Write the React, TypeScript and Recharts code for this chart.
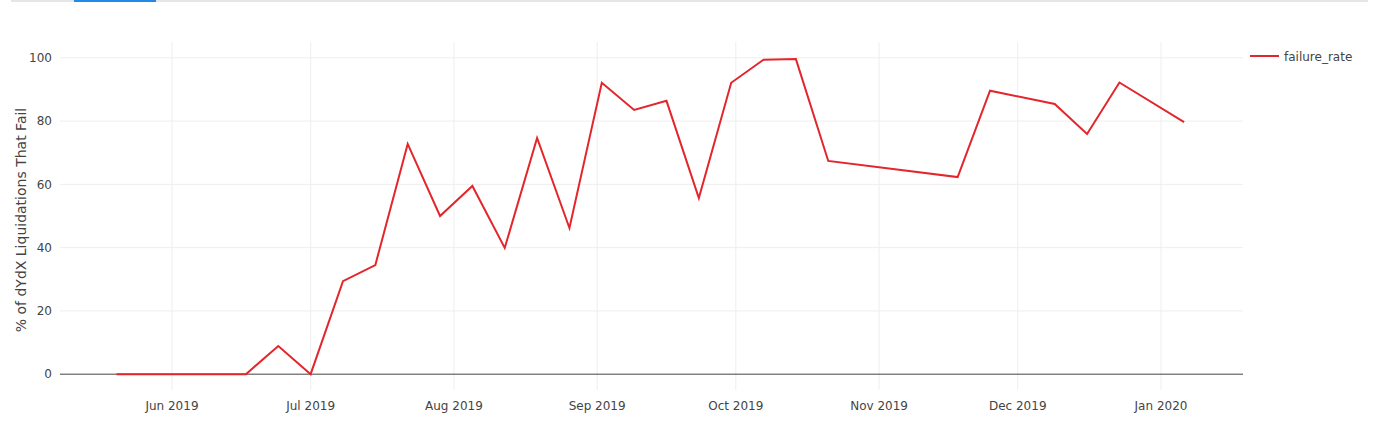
import React from "react";
import {
  LineChart,
  Line,
  XAxis,
  YAxis,
  ReferenceLine
} from "recharts";

const weeks = [
  "2019-05-20", "2019-05-27", "2019-06-03", "2019-06-10", "2019-06-17",
  "2019-06-24", "2019-07-01", "2019-07-08", "2019-07-15", "2019-07-22",
  "2019-07-29", "2019-08-05", "2019-08-12", "2019-08-19", "2019-08-26",
  "2019-09-02", "2019-09-09", "2019-09-16", "2019-09-23", "2019-09-30",
  "2019-10-07", "2019-10-14", "2019-10-21", "2019-11-18", "2019-11-25",
  "2019-12-09", "2019-12-16", "2019-12-23", "2020-01-06"
];

const failureRate = [
  0, 0, 0, 0, 0,
  8.9, 0, 29.4, 34.5, 72.8,
  50.0, 59.5, 39.9, 74.7, 46.2,
  92.1, 83.5, 86.4, 55.7, 92.1,
  99.4, 99.6, 67.4, 62.3, 89.6,
  85.4, 75.9, 92.2, 79.7
];

const monthTicks = [
  "2019-06-01", "2019-07-01", "2019-08-01", "2019-09-01",
  "2019-10-01", "2019-11-01", "2019-12-01", "2020-01-01"
];

const yTicks = [0, 20, 40, 60, 80, 100];

const monthNames = ["Jan", "Feb", "Mar", "Apr", "May", "Jun", "Jul", "Aug", "Sep", "Oct", "Nov", "Dec"];

const toTs = (s: string) => Date.parse(s + "T00:00:00Z");
const DAY = 86400000;

const data = weeks.map((w, i) => ({ t: toTs(w), failure_rate: failureRate[i] }));
const xTicks = monthTicks.map(toTs);

const fmtMonth = (ts: number) => {
  const d = new Date(ts);
  return `${monthNames[d.getUTCMonth()]} ${d.getUTCFullYear()}`;
};

const RED = "#e3262b";
const GRID = "#eeeeee";
const FONT = '"DejaVu Sans", verdana, arial, sans-serif';

const YTitle = ({ viewBox }: any) => {
  const x = viewBox.x + 21;
  const y = viewBox.y + viewBox.height / 2 + 4;
  return (
    <text
      x={x}
      y={y}
      transform={`rotate(-90 ${x} ${y})`}
      textAnchor="middle"
      dominantBaseline="central"
      fontSize={14}
      fill="#444"
      fontFamily={FONT}
    >
      % of dYdX Liquidations That Fail
    </text>
  );
};

export default function App() {
  return (
    <div style={{ position: "relative", width: 1383, height: 439, background: "#fff", fontFamily: FONT }}>
      <style>{`body{margin:0}`}</style>
      <div style={{ position: "absolute", left: 11, top: 0, width: 1357, height: 2, background: "#e6e6e6" }} />
      <div style={{ position: "absolute", left: 74, top: 0, width: 82, height: 2, background: "#2189e8" }} />
      <LineChart
        width={1383}
        height={439}
        data={data}
        margin={{ top: 42, right: 140, left: 0, bottom: 19 }}
      >
        <XAxis
          dataKey="t"
          type="number"
          scale="time"
          domain={[toTs("2019-05-07") + 0.77 * DAY, toTs("2020-01-18") + 0.74 * DAY]}
          ticks={xTicks}
          tickFormatter={fmtMonth}
          axisLine={false}
          tickLine={false}
          tickMargin={5}
          height={30}
          tick={{ fontSize: 12, fill: "#444", fontFamily: FONT }}
        />
        <YAxis
          type="number"
          domain={[-5, 105]}
          ticks={yTicks}
          axisLine={false}
          tickLine={false}
          width={60}
          tick={{ fontSize: 12, fill: "#444", fontFamily: FONT }}
          label={{ position: "insideLeft", content: YTitle }}
        />
        {xTicks.map((t) => (
          <ReferenceLine key={"x" + t} x={t} stroke={GRID} strokeWidth={1} />
        ))}
        {yTicks.filter((v) => v !== 0).map((v) => (
          <ReferenceLine key={"y" + v} y={v} stroke={GRID} strokeWidth={1} />
        ))}
        <ReferenceLine y={0} stroke="#444" strokeWidth={1} />
        <Line
          type="linear"
          dataKey="failure_rate"
          stroke={RED}
          strokeWidth={2}
          dot={false}
          activeDot={false}
          isAnimationActive={false}
        />
      </LineChart>
      <div style={{ position: "absolute", left: 1248, top: 47 }}>
        <svg width={130} height={20}>
          <line x1={2} y1={9} x2={31} y2={9} stroke={RED} strokeWidth={2} />
          <text x={36} y={13.5} fontSize={12} fill="#444" fontFamily={FONT}>
            failure_rate
          </text>
        </svg>
      </div>
    </div>
  );
}
